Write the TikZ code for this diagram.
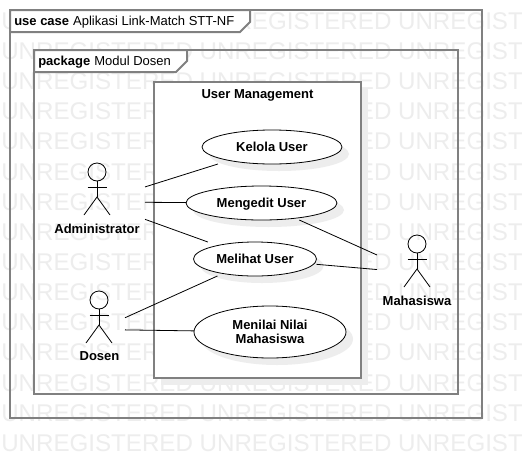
\documentclass[tikz,border=0pt]{standalone}
\usepackage{fontspec}
\setmainfont{Liberation Sans}
\tikzset{
	frameline/.style={draw=black!50, line width=1.5pt},
	tabstyle/.style={frameline, fill=white},
	shadowstyle/.style={fill=black!7, draw=none},
	caseline/.style={draw=black, line width=0.6pt, fill=white},
	casebox/.style={draw=none, inner sep=0pt, outer sep=0pt, font=\fontsize{9.75}{10.5}\selectfont\bfseries, align=center},
	actorbox/.style={draw=none, inner sep=0pt, outer sep=0pt, minimum height=54pt},
	actorlabel/.style={inner sep=0pt, text depth=0pt, font=\fontsize{9.75}{11}\selectfont\bfseries},
	tabtext/.style={inner sep=0pt, anchor=base west, font=\fontsize{9.75}{11}\selectfont},
	watermark/.style={inner sep=0pt, anchor=west, text=black!7, font=\fontsize{18.1}{19}\selectfont},
	connector/.style={line width=0.6pt},
	stickman/.pic={
		\draw[connector] (0,-18) circle (9*0.75pt);
		\draw[connector] (0,-9)--(0,7);
		\draw[connector] (-9.5,-3)--(9.5,-3);
		\draw[connector] (-13,25)--(0,7)--(13,25);
	}
}
\begin{document}
\begin{tikzpicture}[x=0.75pt, y=-0.75pt]
	\useasboundingbox (0,0) rectangle (522,458);
	\fill[white] (0,0) rectangle (522,458);
	% watermark
	\begin{scope}
		\clip (0,0) rectangle (522,458);
		\foreach \row in {0,...,14}
			\node[watermark] (mark\row) at (1,{21+30.15*\row}) {UNREGISTERED UNREGISTERED UNREGIST};
	\end{scope}
	% frames
	\draw[frameline] (10,10) rectangle (482,418);
	\draw[tabstyle] (10,10)--(250,10)--(250,22)--(240,32)--(10,32)--cycle;
	\node[tabtext] (outertitle) at (14,25) {\textbf{use case}\hspace{3pt}Aplikasi Link-Match STT-NF};
	\draw[frameline] (34,50) rectangle (458,394);
	\draw[tabstyle] (34,50)--(187,50)--(187,61)--(176,72)--(34,72)--cycle;
	\node[tabtext] (innertitle) at (38,65) {\textbf{package}\hspace{3pt}Modul Dosen};
	% subsystem
	\fill[shadowstyle] (161,89) rectangle (368,385);
	\draw[tabstyle] (154,82) rectangle (361,378);
	\node[actorlabel] (system) at (257.5,94.5) {User Management};
	% use cases
	\fill[shadowstyle] (279,154) ellipse (70*0.75pt and 17*0.75pt);
	\fill[shadowstyle] (268.5,210) ellipse (75.5*0.75pt and 17*0.75pt);
	\fill[shadowstyle] (262,266) ellipse (61.5*0.75pt and 17*0.75pt);
	\fill[shadowstyle] (277,339) ellipse (76*0.75pt and 26*0.75pt);
	\draw[caseline] (272,147) ellipse (70*0.75pt and 17*0.75pt);
	\draw[caseline] (261.5,203) ellipse (75.5*0.75pt and 17*0.75pt);
	\draw[caseline] (255,259) ellipse (61.5*0.75pt and 17*0.75pt);
	\draw[caseline] (270,332) ellipse (76*0.75pt and 26*0.75pt);
	\node[casebox, minimum width=105pt, minimum height=25.5pt] (kelola) at (272,147) {Kelola User};
	\node[casebox, text depth=0pt, minimum width=113.25pt, minimum height=25.5pt] (mengedit) at (261.5,203) {Mengedit User};
	\node[casebox, minimum width=92.25pt, minimum height=25.5pt] (melihat) at (255,259) {Melihat User};
	\node[casebox, minimum width=114pt, minimum height=39pt] (menilai) at (270,332) {Menilai Nilai\\Mahasiswa};
	% actors
	\node[actorbox, minimum width=72pt] (administrator) at (97,202) {};
	\node[actorbox, minimum width=39pt] (dosen) at (99,329.5) {};
	\node[actorbox, minimum width=60pt] (mahasiswa) at (417,273) {};
	\pic at (97,190) {stickman};
	\pic at (99,318) {stickman};
	\pic at (417,262) {stickman};
	\node[actorlabel] (administratorlabel) at (97,228.5) {Administrator};
	\node[actorlabel] (dosenlabel) at (99.5,356.5) {Dosen};
	\node[actorlabel] (mahasiswalabel) at (417,300.5) {Mahasiswa};
	% connectors
	\draw[connector] (administrator)--(kelola);
	\draw[connector] (administrator)--(mengedit);
	\draw[connector] (administrator)--(melihat);
	\draw[connector] (dosen)--(melihat);
	\draw[connector] (dosen)--(menilai);
	\draw[connector] (mahasiswa)--(mengedit);
	\draw[connector] (mahasiswa)--(melihat);
\end{tikzpicture}
\end{document}
